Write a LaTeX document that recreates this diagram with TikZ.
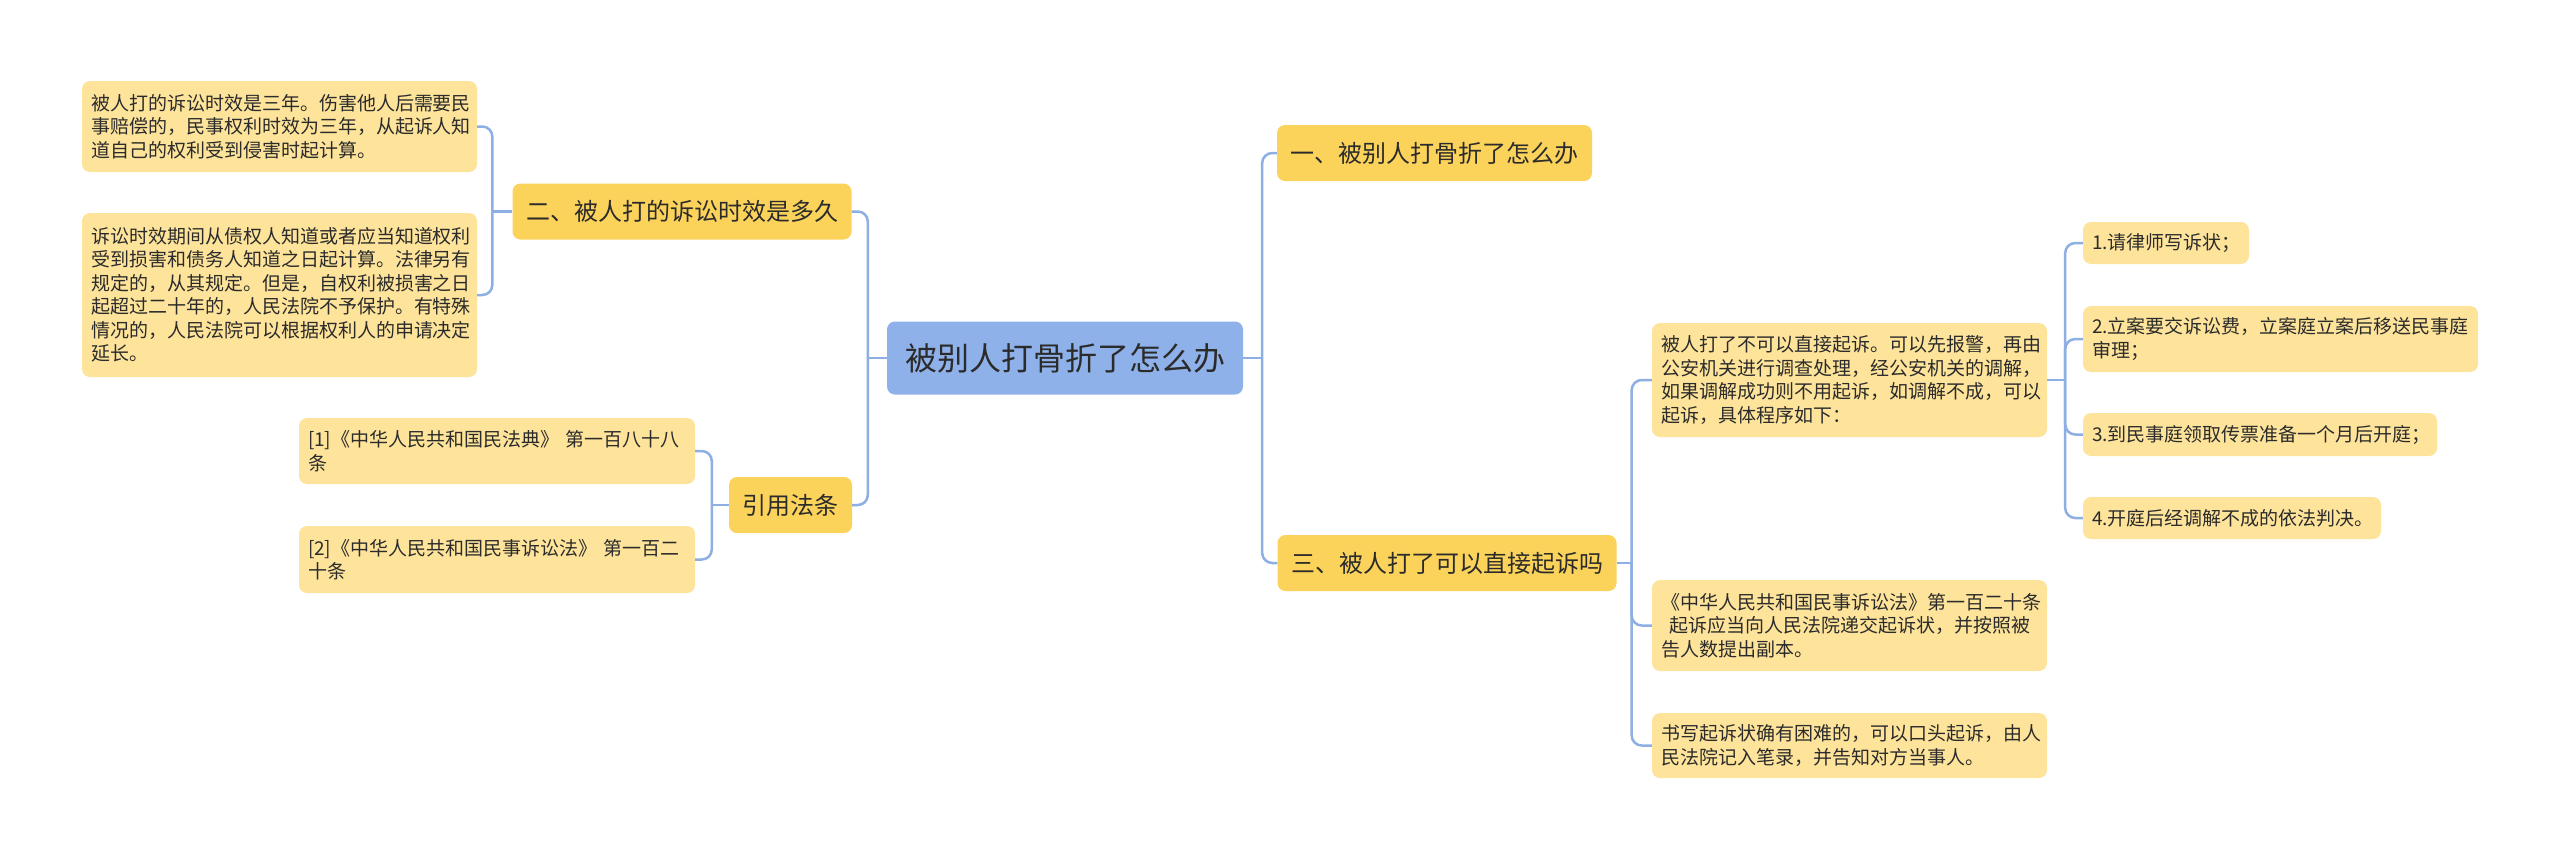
\documentclass[tikz,border=0pt]{standalone}
\usepackage{fontspec}
\setmainfont{Noto Sans CJK SC}
\usepackage{xcolor}
\usepackage{tikz}
\usetikzlibrary{positioning}
\definecolor{rootblue}{HTML}{8FB1E9}
\definecolor{topicyel}{HTML}{FCD35A}
\definecolor{leafyel}{HTML}{FEE49B}
\definecolor{linkblue}{HTML}{8EAFE3}
\definecolor{inktxt}{HTML}{2B2B2B}

\begin{document}
\begin{tikzpicture}[x=1pt, y=-1pt,
  box/.style={rounded corners=8pt, inner ysep=0pt, text=inktxt},
  rootbox/.style={box, fill=rootblue, inner xsep=18pt, minimum height=73pt, font=\fontsize{32}{38}\selectfont},
  topic/.style={box, fill=topicyel, inner xsep=13.5pt, minimum height=56pt, font=\fontsize{24}{29}\selectfont},
  leaf/.style={box, fill=leafyel, inner xsep=9pt, align=left, text width=#1, font=\fontsize{19}{23.5}\selectfont},
  link/.style={draw=linkblue, line width=2.5pt, rounded corners=10pt}
]
\fill[white] (0,0) rectangle (2560,860);

\node[rootbox] (root) at (1065,358) {被别人打骨折了怎么办};

\node[topic] (t1) at (1434.5,153) {一、被别人打骨折了怎么办};
\node[topic] (t3) at (1447,563) {三、被人打了可以直接起诉吗};
\node[topic] (t2) at (682,211.5) {二、被人打的诉讼时效是多久};
\node[topic] (tref) at (790.5,505) {引用法条};

\node[leaf=377pt, minimum height=91pt] (lim1) at (279.5,126.5) {被人打的诉讼时效是三年。伤害他人后需要民\\事赔偿的，民事权利时效为三年，从起诉人知\\道自己的权利受到侵害时起计算。};
\node[leaf=377pt, minimum height=164pt] (lim2) at (279.5,295) {诉讼时效期间从债权人知道或者应当知道权利\\受到损害和债务人知道之日起计算。法律另有\\规定的，从其规定。但是，自权利被损害之日\\起超过二十年的，人民法院不予保护。有特殊\\情况的，人民法院可以根据权利人的申请决定\\延长。};

\node[leaf=378pt, minimum height=66pt] (ref1) at (497,451) {[1]《中华人民共和国民法典》 第一百八十八\\条};
\node[leaf=378pt, minimum height=67pt] (ref2) at (497,559.5) {[2]《中华人民共和国民事诉讼法》 第一百二\\十条};

\node[leaf=377pt, minimum height=114pt] (sue1) at (1849.5,380) {被人打了不可以直接起诉。可以先报警，再由\\公安机关进行调查处理，经公安机关的调解，\\如果调解成功则不用起诉，如调解不成，可以\\起诉，具体程序如下：};
\node[leaf=377pt, minimum height=91pt] (sue2) at (1849.5,625.5) {《中华人民共和国民事诉讼法》第一百二十条\\\hspace*{8pt}起诉应当向人民法院递交起诉状，并按照被\\告人数提出副本。};
\node[leaf=377pt, minimum height=65pt] (sue3) at (1849.5,745.5) {书写起诉状确有困难的，可以口头起诉，由人\\民法院记入笔录，并告知对方当事人。};

\node[leaf=148pt, minimum height=42pt] (step1) at (2166,243) {1.请律师写诉状；};
\node[leaf=377pt, minimum height=66pt] (step2) at (2280.5,339) {2.立案要交诉讼费，立案庭立案后移送民事庭\\审理；};
\node[leaf=336pt, minimum height=43pt] (step3) at (2260,434.5) {3.到民事庭领取传票准备一个月后开庭；};
\node[leaf=280pt, minimum height=42pt] (step4) at (2232,518) {4.开庭后经调解不成的依法判决。};

\draw[link] (root.east) -- ++(19,0) coordinate (jr);
\draw[link] (jr) |- (t1.west);
\draw[link] (jr) |- (t3.west);
\draw[link] (root.west) -- ++(-19,0) coordinate (jl);
\draw[link] (jl) |- (t2.east);
\draw[link] (jl) |- (tref.east);

\draw[link] (t2.west) -- ++(-20,0) coordinate (j2);
\draw[link] (j2) |- (lim1.east);
\draw[link] (j2) |- (lim2.east);
\draw[link] (tref.west) -- ++(-17,0) coordinate (jref);
\draw[link] (jref) |- (ref1.east);
\draw[link] (jref) |- (ref2.east);

\draw[link] (t3.east) -- ++(15,0) coordinate (j3);
\draw[link] (j3) |- (sue1.west);
\draw[link] (j3) |- (sue2.west);
\draw[link] (j3) |- (sue3.west);
\draw[link] (sue1.east) -- ++(18,0) coordinate (js);
\draw[link] (js) |- (step1.west);
\draw[link] (js) |- (step2.west);
\draw[link] (js) |- (step3.west);
\draw[link] (js) |- (step4.west);
\end{tikzpicture}
\end{document}
